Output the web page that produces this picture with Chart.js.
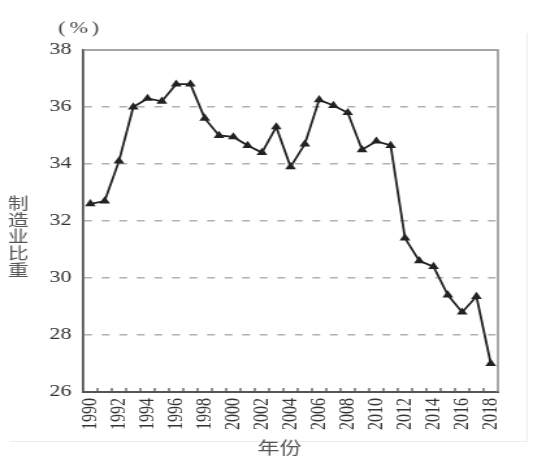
<!DOCTYPE html>
<html>
<head>
<meta charset="utf-8">
<script src="https://cdn.jsdelivr.net/npm/chart.js@4/dist/chart.umd.min.js"></script>
<style>
  html, body { margin: 0; padding: 0; background: #fff; overflow: hidden; }
  /* the scan is stretched sideways, so the canvas is drawn narrow and widened */
  #wrap { width: 423px; height: 461px; transform: scaleX(1.3); transform-origin: 0 0; }
</style>
</head>
<body>
<div id="wrap"><canvas id="c" width="423" height="461"></canvas></div>
<script>
// data
const years = [];
for (let y = 1990; y <= 2018; y++) years.push(String(y));
const shares = [
  32.6, 32.7, 34.1, 36.0, 36.3, 36.2, 36.8, 36.8, 35.6, 35.0,
  34.95, 34.65, 34.4, 35.3, 33.9, 34.7, 36.25, 36.05, 35.8, 34.5,
  34.8, 34.65, 31.4, 30.6, 30.4, 29.4, 28.8, 29.35, 27.0
];
const yTicks = [26, 28, 30, 32, 34, 36, 38];
const yTitleChars = ["制", "造", "业", "比", "重"];
const unitLabel = "(%)";
const xTitle = "年份";

const SERIF = "'Liberation Serif', 'DejaVu Serif', serif";
const CJK = "'Noto Sans CJK SC', 'Noto Sans', sans-serif";

// frame, inward tick marks and the loose text labels
const extras = {
  id: "extras",
  beforeDatasetsDraw(chart) {
    const { ctx, chartArea: a, scales } = chart;
    const x = scales.x;
    ctx.save();
    // faint scan edges
    ctx.strokeStyle = "#ececec";
    ctx.lineWidth = 1;
    ctx.beginPath();
    ctx.moveTo(405.5, 33);
    ctx.lineTo(405.5, 442);
    ctx.moveTo(8, 441.5);
    ctx.lineTo(405.5, 441.5);
    ctx.stroke();
    // top + right frame
    ctx.strokeStyle = "#8a8a8a";
    ctx.lineWidth = 1.5;
    ctx.beginPath();
    ctx.moveTo(a.left, a.top);
    ctx.lineTo(a.right, a.top);
    ctx.lineTo(a.right, a.bottom);
    ctx.stroke();
    // tick marks on the bottom axis, at category boundaries, pointing up
    ctx.strokeStyle = "#555";
    ctx.lineWidth = 1.3;
    for (let i = 1; i < years.length; i++) {
      const px = (x.getPixelForValue(i - 1) + x.getPixelForValue(i)) / 2;
      ctx.beginPath();
      ctx.moveTo(px, a.bottom);
      ctx.lineTo(px, a.bottom - 4);
      ctx.stroke();
    }
    ctx.restore();
  },
  afterDraw(chart) {
    const { ctx, chartArea: a } = chart;
    ctx.save();
    ctx.fillStyle = "#444";
    ctx.textAlign = "center";
    ctx.textBaseline = "middle";
    ctx.font = "17px " + SERIF;
    if ("letterSpacing" in ctx) ctx.letterSpacing = "3px";
    ctx.fillText(unitLabel, a.left - 2, a.top - 21);
    if ("letterSpacing" in ctx) ctx.letterSpacing = "0px";
    ctx.fillStyle = "#555";
    ctx.font = "16px " + CJK;
    yTitleChars.forEach((ch, i) => {
      ctx.fillText(ch, 14, 203 + i * 16.7);
    });
    ctx.font = "17px " + CJK;
    ctx.fillText(xTitle, a.left + 151, 448);
    ctx.restore();
  }
};

new Chart(document.getElementById("c"), {
  type: "line",
  data: {
    labels: years,
    datasets: [{
      data: shares,
      borderColor: "#222",
      backgroundColor: "#222",
      borderWidth: 1.8,
      tension: 0,
      pointStyle: "triangle",
      pointRadius: 4.8,
      pointBorderWidth: 0,
      pointBackgroundColor: "#222"
    }]
  },
  options: {
    responsive: false,
    animation: false,
    layout: { padding: { top: 50, right: 40, left: 0, bottom: 0 } },
    plugins: {
      legend: { display: false },
      tooltip: { enabled: false }
    },
    scales: {
      x: {
        type: "category",
        offset: true,
        afterFit: s => { s.height = 69; },
        grid: { display: true, drawOnChartArea: false, drawTicks: false, offset: true },
        border: { display: true, color: "#555", width: 2 },
        ticks: {
          autoSkip: false,
          minRotation: 90,
          maxRotation: 90,
          padding: 6,
          color: "#333",
          font: { family: SERIF, size: 16 },
          callback: (v, i) => (Number(years[i]) % 2 === 0 ? years[i] : "")
        }
      },
      y: {
        min: 26,
        max: 38,
        afterFit: s => { s.width = 64; },
        afterBuildTicks: s => { s.ticks = yTicks.map(v => ({ value: v })); },
        grid: {
          drawTicks: false,
          lineWidth: 1.5,
          color: c => (c.tick && (c.tick.value === 26 || c.tick.value === 38) ? "rgba(0,0,0,0)" : "#b0b0b0")
        },
        border: { display: true, color: "#555", width: 1.8, dash: [6, 7.5] },
        ticks: {
          padding: 9,
          color: "#333",
          font: { family: SERIF, size: 17 }
        }
      }
    }
  },
  plugins: [extras]
});
</script>
</body>
</html>
